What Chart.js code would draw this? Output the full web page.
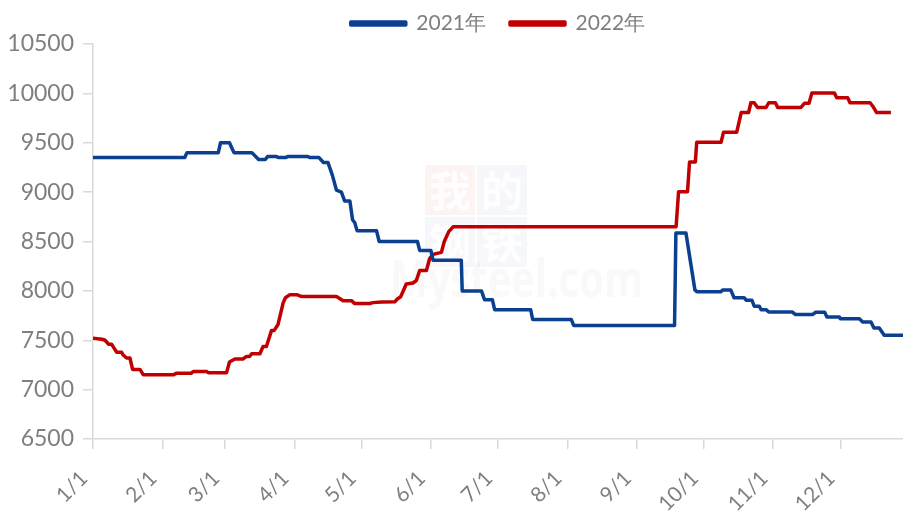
<!DOCTYPE html>
<html>
<head>
<meta charset="utf-8">
<script src="https://cdn.jsdelivr.net/npm/chart.js@4/dist/chart.umd.min.js"></script>
<style>
  html, body { margin: 0; padding: 0; background: #fff; }
  #wrap { width: 903px; height: 512px; }
</style>
</head>
<body>
<div id="wrap"><canvas id="priceChart"></canvas></div>
<script>
// x is day of year (0 = 1/1)
const monthStarts = [0, 31, 59, 90, 120, 151, 181, 212, 243, 273, 304, 334];
const monthLabels = ["1/1", "2/1", "3/1", "4/1", "5/1", "6/1", "7/1", "8/1", "9/1", "10/1", "11/1", "12/1"];
const yTicks = [6500, 7000, 7500, 8000, 8500, 9000, 9500, 10000, 10500];

const days2021 = [0, 41, 42, 56, 57, 61, 62, 63, 71, 74, 77, 78, 82, 83, 86, 87, 96, 97, 101, 103, 105,
  107, 108.8, 111, 112.5, 114.8, 116, 117, 118, 126.7, 127.9, 145, 146, 151, 152, 164.6, 165, 173.6, 175,
  178.5, 179.5, 195.6, 196.5, 213.8, 214.8, 259.9, 260.5, 265, 269, 270, 280.5, 281.5, 285, 286.5, 291,
  292, 294.5, 295.5, 297.8, 298.6, 300.8, 302, 312.5, 314, 321.5, 323, 327, 328, 333.6, 334, 342.5, 344,
  347.7, 349, 351.4, 353.6, 362];
const values2021 = [9350, 9350, 9400, 9400, 9500, 9500, 9450, 9400, 9400, 9330, 9330, 9360, 9360, 9350, 9350, 9360, 9360, 9350, 9350, 9300, 9300,
  9170, 9020, 9000, 8910, 8910, 8720, 8690, 8610, 8610, 8500, 8500, 8410, 8410, 8310, 8310, 8000, 8000, 7910,
  7910, 7810, 7810, 7710, 7710, 7650, 7650, 8585, 8585, 8010, 7990, 7990, 8010, 8010, 7930, 7930,
  7905, 7905, 7845, 7845, 7810, 7810, 7786, 7786, 7760, 7760, 7784, 7784, 7736, 7736, 7718, 7718, 7684,
  7684, 7624, 7624, 7550, 7550];

const days2022 = [0, 4, 5.4, 7, 8.3, 9, 10.6, 12.8, 13.5, 15, 16.5, 17.7, 21, 22.5, 35.9, 37.4, 44, 44.8,
  50.8, 51.5, 59.7, 61, 63.4, 67, 68.6, 70, 70.9, 74.6, 76, 77.5, 79.8, 81, 82.7, 85, 86, 88, 91, 93,
  108.8, 111.8, 115.5, 117, 123.7, 125, 129, 135, 136, 137.5, 140, 143, 144.5, 146, 149, 150.5, 152,
  155.7, 157, 159, 161, 260.6, 261.7, 265.7, 266.6, 269.2, 269.8, 280.7, 281.8, 287.7, 289.7, 293, 294,
  295.5, 297, 300.8, 302, 305, 306, 316.4, 318, 320, 321.3, 331.3, 332.4, 337.3, 338.3, 347.3, 348.5,
  350.2, 356.6];
const values2022 = [7520, 7510, 7500, 7460, 7460, 7435, 7378, 7378, 7350, 7320, 7320, 7205, 7205, 7150, 7150, 7167, 7167, 7183,
  7183, 7172, 7172, 7280, 7310, 7310, 7336, 7336, 7363, 7363, 7437, 7437, 7600, 7600, 7660, 7880, 7930, 7962, 7962, 7944,
  7944, 7901, 7901, 7871, 7871, 7881, 7888, 7891, 7918, 7940, 8070, 8080, 8105, 8206, 8206, 8330, 8370,
  8390, 8500, 8600, 8650, 8650, 9005, 9005, 9305, 9305, 9505, 9505, 9607, 9607, 9806, 9806, 9905,
  9905, 9857, 9857, 9905, 9905, 9857, 9857, 9900, 9900, 10005, 10005, 9955, 9955, 9905, 9905, 9870,
  9806, 9806];

const toPoints = (xs, ys) => xs.map((x, i) => ({ x, y: ys[i] }));

const watermark = {
  id: "watermark",
  beforeDatasetsDraw(chart) {
    const ctx = chart.ctx;
    ctx.save();
    const boxes = [
      ["我", 425, 165, "rgba(225,120,120,0.09)"],
      ["的", 477, 165, "rgba(120,140,200,0.07)"],
      ["钢", 425, 217, "rgba(120,140,200,0.07)"],
      ["铁", 477, 217, "rgba(120,140,200,0.07)"],
    ];
    ctx.textAlign = "center";
    ctx.textBaseline = "middle";
    ctx.font = "bold 42px 'Noto Sans CJK SC'";
    boxes.forEach(([ch, x, y, c]) => {
      ctx.fillStyle = c;
      ctx.fillRect(x, y, 50, 50);
      ctx.fillStyle = "rgba(255,255,255,0.85)";
      ctx.fillText(ch, x + 25, y + 26);
    });
    ctx.fillStyle = "rgba(200,200,200,0.10)";
    ctx.textAlign = "left";
    ctx.textBaseline = "alphabetic";
    ctx.translate(390, 297);
    ctx.scale(1, 1.3);
    ctx.font = "bold 40px 'Open Sans'";
    ctx.fillText("Mysteel.com", 0, 0);
    ctx.restore();
  },
};

// centre the legend over the plot area, as in the original
const legendShift = {
  id: "legendShift",
  afterLayout(chart) {
    chart.legend.left = chart.chartArea.left;
  },
};

new Chart("priceChart", {
  type: "line",
  data: {
    datasets: [
      {
        label: "2021年",
        data: toPoints(days2021, values2021),
        borderColor: "#0b3f8f",
        backgroundColor: "#0b3f8f",
        borderWidth: 3.5,
      },
      {
        label: "2022年",
        data: toPoints(days2022, values2022),
        borderColor: "#c00000",
        backgroundColor: "#c00000",
        borderWidth: 3.5,
      },
    ],
  },
  options: {
    responsive: true,
    maintainAspectRatio: false,
    animation: false,
    layout: { padding: { top: -11, right: 0, left: 0, bottom: 0 } },
    elements: { point: { radius: 0 }, line: { tension: 0, borderJoinStyle: "round" } },
    plugins: {
      legend: {
        position: "top",
        labels: {
          color: "#7f7f7f",
          font: { family: "Lato", size: 21 },
          boxWidth: 55,
          boxHeight: 3,
          padding: 24,
        },
      },
      tooltip: { enabled: false },
    },
    scales: {
      x: {
        type: "linear",
        min: 0,
        max: 362,
        afterBuildTicks: (scale) => {
          scale.ticks = monthStarts.map((v) => ({ value: v }));
        },
        afterFit: (scale) => { scale.height = 73; },
        grid: { display: true, drawOnChartArea: false, tickLength: 10, color: "#d9d9d9", lineWidth: 1.5 },
        border: { color: "#d9d9d9", width: 1.5 },
        ticks: {
          autoSkip: false,
          maxRotation: 45,
          minRotation: 45,
          padding: 17,
          labelOffset: -9,
          color: "#7f7f7f",
          font: { family: "Lato", size: 21 },
          callback: (v) => monthLabels[monthStarts.indexOf(v)],
        },
      },
      y: {
        min: 6500,
        max: 10500,
        afterBuildTicks: (scale) => {
          scale.ticks = yTicks.map((v) => ({ value: v }));
        },
        afterFit: (scale) => { scale.width = 93; },
        grid: { display: true, drawOnChartArea: false, tickLength: 10, color: "#d9d9d9", lineWidth: 1.5 },
        border: { color: "#d9d9d9", width: 1.5 },
        ticks: {
          padding: 9,
          color: "#7f7f7f",
          font: { family: "Lato", size: 23 },
          callback: (v) => String(v),
        },
      },
    },
  },
  plugins: [watermark, legendShift],
});
</script>
</body>
</html>
